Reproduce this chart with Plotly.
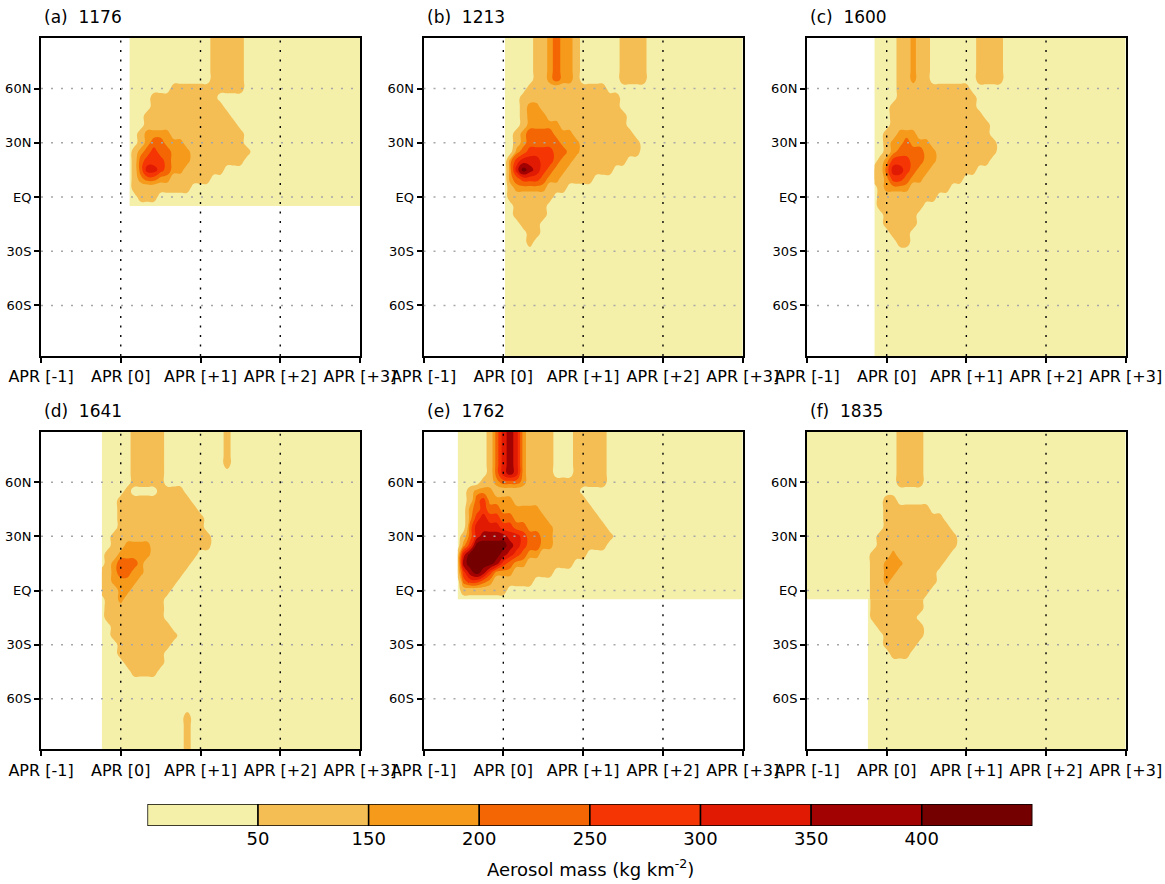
import plotly.graph_objects as go

W, H = 1165, 884
FONT = "DejaVu Sans"

# ---------------- axes / labels ----------------
MONTH_TICKS = [-12, 0, 12, 24, 36]          # months relative to APR of eruption year
MONTH_LABELS = ["APR [-1]", "APR [0]", "APR [+1]", "APR [+2]", "APR [+3]"]
LAT_TICKS = [-60, -30, 0, 30, 60]
LAT_LABELS = ["60S", "30S", "EQ", "30N", "60N"]
PANEL_TITLES = ["(a)  1176", "(b)  1213", "(c)  1600", "(d)  1641", "(e)  1762", "(f)  1835"]

# ---------------- colour bands ----------------
LEVEL_LABELS = ["50", "150", "200", "250", "300", "350", "400"]
BAND_COLORS = ["#F4F0AA", "#F4BE54", "#F59A1A", "#F46604",
               "#F53503", "#E11A04", "#A30202", "#740000"]
# representative aerosol mass (kg km-2) for each band index
BAND_VALUES = [0, 105, 180, 225, 275, 325, 375, 425]

# ---------------- gridded readings (band index per month x 5 deg lat) ----------------
# each string: one latitude row (top row first, 5 deg apart), one char per month
# starting at FIRST_MONTH; missing trailing characters are band 0.

A_FIRST_MONTH, A_START, A_TOP = 1, 1.3, 90
A_ROWS = [
    "000000000000011111", "000000000000011111", "000000000000011111",
    "000000000000011111", "000000000000011111", "000000000000011111",
    "000000011111111111", "00001111111111", "000011111111111",
    "0001111111111111", "00011111111111111", "001222211111111111",
    "001233222111111111", "0123433222111111111", "013444322211111111",
    "013554322111111", "0123322111111", "0111111111", "00111", "",
]

B_FIRST_MONTH, B_START, B_TOP = 0, 0.25, 90
B_ROWS = [
    "0000011232210000001111", "0000011232210000001111", "0000011232210000001111",
    "0000011232210000001111", "0000011232210000001111", "0000011232210000001111",
    "0000111111111111", "000111111111111111", "000122111111111111",
    "0001222111111111111", "0001222221111111111", "00123333222111111111",
    "001233333222111111111", "002344443322111111111", "0245554432211111111",
    "02576543221111111", "02344432211111", "0122222111", "01111111",
    "0011111", "0011111", "000111", "000011", "00001",
    "", "", "", "", "", "", "", "", "", "", "", "", "",
]

C_FIRST_MONTH, C_START, C_TOP = -2, -1.86, 90
C_ROWS = [
    "00001121100000001111", "00001121100000001111", "00001121100000001111",
    "00001121100000001111", "00001121100000001111", "00001121100000001111",
    "000011111111111", "0000111111111111", "0001111111111111",
    "00011111111111111", "000111111111111111", "001122211111111111",
    "0012232221111111111", "0012333322111111111", "012444332211111111",
    "1135543221111111", "11244322111111", "012222111111", "0111111111",
    "01111111", "0011111", "0011111", "000111", "000011",
    "", "", "", "", "", "", "", "", "", "", "", "", "",
]

D_FIRST_MONTH, D_START, D_TOP = -3, -2.86, 90
D_ROWS = [
    "00000111110000000001", "00000111110000000001", "00000111110000000001",
    "00000111110000000001", "00000111110000000001", "0000011111", "0000011111",
    "0000100001111", "00011111111111", "000111111111111", "0001111111111111",
    "0001111111111111", "00111111111111111", "00112222111111111",
    "011222221111111", "01233321111111", "1123322111111", "112222111111",
    "11122111111", "0112111111", "0111111111", "0111111111", "00111111111",
    "001111111111", "00011111111", "0001111111", "0000111111", "000001111",
    "", "", "", "",
    "00000000000001", "00000000000001", "00000000000001", "00000000000001",
    "00000000000001",
]

E_FIRST_MONTH, E_START, E_TOP = -7, -6.87, 90
E_ROWS = [
    "00000135652111100011111", "00000135652111100011111", "00000135652111100011111",
    "00000135652111100011111", "00000135652111100011111", "00000135652111100011111",
    "00001123332111111111111", "0012221111111111111", "00134222211111111111",
    "002343322222211111111", "0024544332222211111111", "00355554433222211111111",
    "013566665543322111111111", "02477777654332211111111", "15777776543221111111",
    "167777643221111111", "146764222111111", "034432111111", "01111111", "",
]

F_NORTH_FIRST_MONTH, F_NORTH_START, F_NORTH_TOP = -12, -12, 90
F_NORTH_ROWS = [
    "000000000000001111", "000000000000001111", "000000000000001111",
    "000000000000001111", "000000000000001111", "000000000000001111",
    "000000000000001111", "", "00000000000011", "0000000000001111111",
    "000000000000111111111", "0000000000001111111111", "00000000000111111111111",
    "00000000000111111111111", "0000000000111211111111", "000000000011222111111",
    "00000000001122111111", "00000000001121111111", "0000000000111111111",
    "000000000011111111",
]
# southern part starts later (data begin Jan [0]); its top rows repeat EQ and 5S readings
F_SOUTH_FIRST_MONTH, F_SOUTH_START, F_SOUTH_TOP = -3, -2.86, 0
F_SOUTH_ROWS = [
    "0111111111", "011111111", "011111111", "01111111", "001111111", "000111111",
    "00011111", "0000111", "", "", "", "", "", "", "", "", "", "", "",
]

# southern part of (f) first, so the northern part is drawn over the shared rows
PANEL_REGIONS = [
    [(A_ROWS, A_FIRST_MONTH, A_START, A_TOP)],
    [(B_ROWS, B_FIRST_MONTH, B_START, B_TOP)],
    [(C_ROWS, C_FIRST_MONTH, C_START, C_TOP)],
    [(D_ROWS, D_FIRST_MONTH, D_START, D_TOP)],
    [(E_ROWS, E_FIRST_MONTH, E_START, E_TOP)],
    [(F_SOUTH_ROWS, F_SOUTH_FIRST_MONTH, F_SOUTH_START, F_SOUTH_TOP),
     (F_NORTH_ROWS, F_NORTH_FIRST_MONTH, F_NORTH_START, F_NORTH_TOP)],
]

# ---------------- layout geometry ----------------
COL_DOMAINS = [[41 / W, 360 / W], [423.5 / W, 742.8 / W], [807 / W, 1125.7 / W]]
ROW_DOMAINS = [[1 - 356 / H, 1 - 38 / H], [1 - 749.3 / H, 1 - 431.7 / H]]
TITLE_Y = [1 - 17 / H, 1 - 410.5 / H]


def region_grid(rows, first_month, x_start, top_lat):
    width = 36 - first_month + 1
    xs = [max(m, x_start) for m in range(first_month, 37)]
    ys = [top_lat - 5 * i for i in range(len(rows))]
    z = [[BAND_VALUES[int(ch)] for ch in row.ljust(width, "0")[:width]] for row in rows]
    return xs, ys[::-1], z[::-1]


COLORSCALE = [[0.0, BAND_COLORS[0]], [0.125, BAND_COLORS[1]], [0.25, BAND_COLORS[1]],
              [0.375, BAND_COLORS[2]], [0.5, BAND_COLORS[3]], [0.625, BAND_COLORS[4]],
              [0.75, BAND_COLORS[5]], [0.875, BAND_COLORS[6]], [1.0, BAND_COLORS[7]]]

fig = go.Figure()
layout = dict(
    width=W, height=H, autosize=False,
    margin=dict(l=0, r=0, t=0, b=0, pad=0, autoexpand=False),
    paper_bgcolor="white", plot_bgcolor="white", showlegend=False,
    font=dict(family=FONT, color="black"),
)
shapes = []
annotations = []

for i, regions in enumerate(PANEL_REGIONS):
    n = i + 1
    s = "" if n == 1 else str(n)
    col, row = i % 3, i // 3
    for rows, first_month, x_start, top_lat in regions:
        xs, ys, z = region_grid(rows, first_month, x_start, top_lat)
        fig.add_trace(go.Contour(
            x=xs, y=ys, z=z, xaxis="x" + s, yaxis="y" + s,
            autocontour=False,
            contours=dict(start=50, end=400, size=50, coloring="fill", showlines=False),
            line=dict(width=0, smoothing=1.3),
            colorscale=COLORSCALE, showscale=False, hoverinfo="skip",
        ))
    layout["xaxis" + s] = dict(
        domain=COL_DOMAINS[col], anchor="y" + s, range=[-12, 36], automargin=False,
        tickmode="array", tickvals=MONTH_TICKS, ticktext=MONTH_LABELS,
        ticks="outside", ticklen=5, tickwidth=1.5, tickcolor="black",
        showline=True, mirror=True, linecolor="black", linewidth=2,
        showgrid=False, zeroline=False,
        tickfont=dict(family=FONT, size=16, color="black"),
    )
    layout["yaxis" + s] = dict(
        domain=ROW_DOMAINS[row], anchor="x" + s, range=[-88, 88], automargin=False,
        tickmode="array", tickvals=LAT_TICKS, ticktext=LAT_LABELS,
        ticks="outside", ticklen=5, tickwidth=1.5, tickcolor="black",
        showline=True, mirror=True, linecolor="black", linewidth=2,
        showgrid=False, zeroline=False,
        tickfont=dict(family=FONT, size=13, color="black"),
    )
    for xv in MONTH_TICKS[1:-1]:
        shapes.append(dict(type="line", xref="x" + s, yref="y" + s,
                           x0=xv, x1=xv, y0=-88, y1=88, layer="above",
                           line=dict(color="black", width=1.4, dash="2px,7.5px")))
    for yv in LAT_TICKS:
        shapes.append(dict(type="line", xref="x" + s, yref="y" + s,
                           x0=-12, x1=36, y0=yv, y1=yv, layer="above",
                           line=dict(color="#A6A6A6", width=1.5, dash="2px,8px")))
    annotations.append(dict(
        text=PANEL_TITLES[i], xref="paper", yref="paper",
        x=COL_DOMAINS[col][0] + 1 / W, y=TITLE_Y[row],
        xanchor="left", yanchor="middle", showarrow=False,
        font=dict(family=FONT, size=17, color="black"),
    ))

# ---------------- colour bar (8 boxes) ----------------
fig.add_trace(go.Bar(
    x=[k + 0.5 for k in range(len(BAND_COLORS))], y=[1] * len(BAND_COLORS),
    width=1, base=0, xaxis="x7", yaxis="y7",
    marker=dict(color=BAND_COLORS, line=dict(color="black", width=1.5)),
    hoverinfo="skip", cliponaxis=False,
))
layout["xaxis7"] = dict(
    domain=[147.4 / W, 1032.4 / W], anchor="y7", range=[0, len(BAND_COLORS)],
    automargin=False,
    tickmode="array", tickvals=list(range(1, len(BAND_COLORS))), ticktext=LEVEL_LABELS,
    ticks="", showline=False, showgrid=False, zeroline=False,
    tickfont=dict(family=FONT, size=18, color="black"),
)
layout["yaxis7"] = dict(
    domain=[1 - 826 / H, 1 - 804 / H], anchor="x7", range=[0, 1], automargin=False,
    showticklabels=False, ticks="", showline=False, showgrid=False, zeroline=False,
)
annotations.append(dict(
    text="Aerosol mass (kg km<sup>-2</sup>)", xref="paper", yref="paper",
    x=590 / W, y=1 - 868 / H, xanchor="center", yanchor="middle", showarrow=False,
    font=dict(family=FONT, size=18, color="black"),
))

layout["shapes"] = shapes
layout["annotations"] = annotations
fig.update_layout(**layout)

fig.write_html("out.html", config={"displayModeBar": False},
               post_script="document.body.style.margin='0px';")
